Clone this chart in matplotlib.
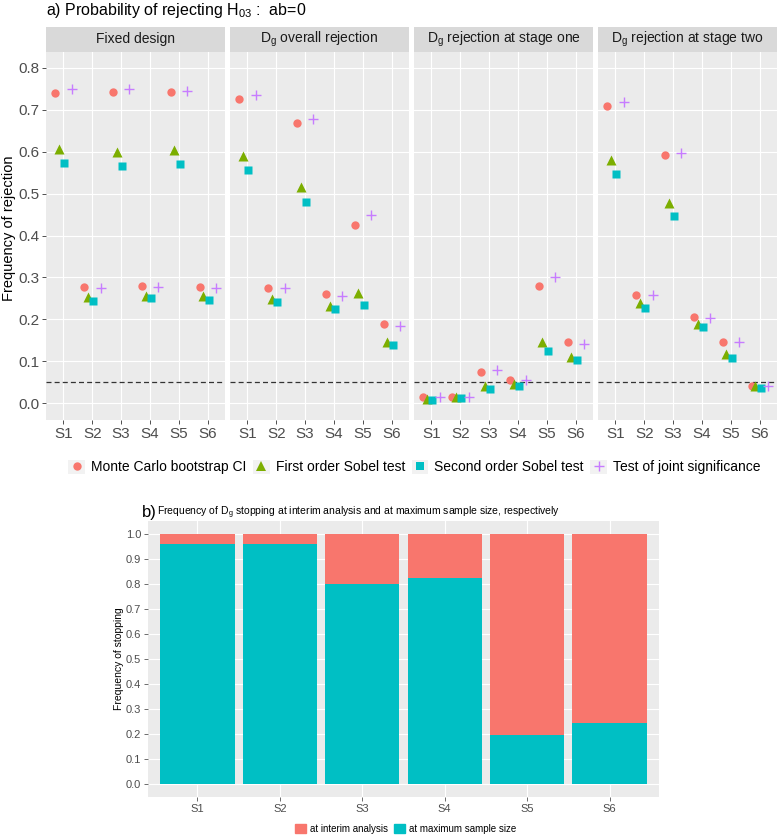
import numpy as np
import matplotlib.pyplot as plt
from matplotlib.patches import Rectangle, Patch
from matplotlib.lines import Line2D
from matplotlib.legend_handler import HandlerLine2D

plt.rcParams['font.family'] = ['Liberation Sans', 'DejaVu Sans']
plt.rcParams['mathtext.fontset'] = 'custom'
plt.rcParams['mathtext.rm'] = 'Liberation Sans'
plt.rcParams['mathtext.it'] = 'Liberation Sans:italic'

# ---- data ----
scenarios = ['S1', 'S2', 'S3', 'S4', 'S5', 'S6']
panel_titles = ['Fixed design',
                r'D$_\mathrm{g}$ overall rejection',
                r'D$_\mathrm{g}$ rejection at stage one',
                r'D$_\mathrm{g}$ rejection at stage two']
methods = ['Monte Carlo bootstrap CI', 'First order Sobel test',
           'Second order Sobel test', 'Test of joint significance']

# one row per panel, one value per scenario
mc_ci = [[0.741, 0.278, 0.743, 0.280, 0.743, 0.278],
         [0.726, 0.275, 0.669, 0.261, 0.426, 0.188],
         [0.015, 0.015, 0.075, 0.056, 0.280, 0.145],
         [0.710, 0.259, 0.593, 0.205, 0.146, 0.042]]
sobel_first = [[0.606, 0.253, 0.599, 0.257, 0.605, 0.255],
               [0.589, 0.249, 0.517, 0.231, 0.262, 0.147],
               [0.011, 0.014, 0.042, 0.046, 0.147, 0.111],
               [0.580, 0.238, 0.477, 0.188, 0.118, 0.040]]
sobel_second = [[0.572, 0.245, 0.565, 0.250, 0.571, 0.247],
                [0.556, 0.241, 0.481, 0.225, 0.234, 0.138],
                [0.007, 0.012, 0.035, 0.041, 0.125, 0.103],
                [0.548, 0.228, 0.446, 0.182, 0.108, 0.036]]
joint_sig = [[0.749, 0.275, 0.750, 0.278, 0.746, 0.274],
             [0.736, 0.274, 0.679, 0.257, 0.448, 0.184],
             [0.016, 0.014, 0.079, 0.056, 0.300, 0.141],
             [0.718, 0.258, 0.598, 0.204, 0.146, 0.042]]
nominal_level = 0.05

stop_labels = ['at interim analysis', 'at maximum sample size']
stop_interim = [0.040, 0.040, 0.200, 0.179, 0.801, 0.754]
stop_max = [0.960, 0.960, 0.800, 0.821, 0.199, 0.246]

# ---- styles ----
colors = ['#F8766D', '#7CAE00', '#00BFC4', '#C77CFF']
markers = ['o', '^', 's', '+']
msizes = [6.0, 7.6, 5.4, 7.4]
offsets = [-0.28, -0.15, 0.04, 0.29]
series = [mc_ci, sobel_first, sobel_second, joint_sig]

W, H = 778, 836
fig = plt.figure(figsize=(W / 100, H / 100), dpi=100)


def box(x0, y0, x1, y1):
    # pixel box (top-left origin) -> figure fraction rect
    return [x0 / W, 1 - y1 / H, (x1 - x0) / W, (y1 - y0) / H]


def gg_axes(ax):
    ax.set_facecolor('#EBEBEB')
    for s in ax.spines.values():
        s.set_visible(False)
    ax.grid(True, color='white', lw=0.8)
    ax.set_axisbelow(True)


panel_x = [(46, 225), (230, 409), (414, 593), (598, 777)]
xs = np.arange(len(scenarios))
for p, (x0, x1) in enumerate(panel_x):
    ax = fig.add_axes(box(x0, 52, x1, 420))
    gg_axes(ax)
    ax.axhline(nominal_level, color='#333333', lw=0.9, ls=(0, (4, 2.5)), zorder=1)
    for k in range(4):
        kw = dict(color=colors[k], ms=msizes[k], ls='none', marker=markers[k], zorder=3)
        if markers[k] == '+':
            kw['mew'] = 1.0
        else:
            kw['mec'] = 'none'
        ax.plot(xs + offsets[k], series[k][p], **kw)
    ax.set_xlim(-0.6, 5.6)
    ax.set_ylim(-0.04, 0.838)
    ax.set_xticks(xs)
    ax.set_xticklabels(scenarios)
    ax.set_yticks(np.arange(0, 0.81, 0.1))
    ax.tick_params(length=2.75, width=0.6, color='#333333', labelcolor='#4D4D4D',
                   labelsize=11, pad=2)
    if p == 0:
        ax.set_yticklabels(['%.1f' % v for v in np.arange(0, 0.81, 0.1)])
    else:
        ax.tick_params(axis='y', length=0, labelleft=False)

    st = fig.add_axes(box(x0, 27, x1, 52))
    st.set_facecolor('#D9D9D9')
    st.set_xticks([])
    st.set_yticks([])
    for s in st.spines.values():
        s.set_visible(False)
    st.text(0.5, 0.5, panel_titles[p], ha='center', va='center',
            fontsize=10, color='#1A1A1A', transform=st.transAxes)

fig.text(9 / W, 1 - 228 / H, 'Frequency of rejection', rotation=90,
         fontsize=10.5, ha='center', va='center')
fig.text(46 / W, 1 - 11 / H, r'a) Probability of rejecting H$_\mathrm{03}$ :  ab=0',
         fontsize=11.5, va='center', ha='left')


class KeyBox(HandlerLine2D):
    def create_artists(self, legend, orig_handle, xdescent, ydescent,
                       width, height, fontsize, trans):
        arts = super().create_artists(legend, orig_handle, xdescent, ydescent,
                                      width, height, fontsize, trans)
        bg = Rectangle((-xdescent, -ydescent), width, height, facecolor='#F2F2F2',
                       edgecolor='none', transform=trans)
        return [bg] + list(arts)


handles = []
for k in range(4):
    h = Line2D([], [], color=colors[k], marker=markers[k], ls='none', ms=msizes[k],
               mew=1.0 if markers[k] == '+' else 0,
               mec=colors[k] if markers[k] == '+' else 'none')
    handles.append(h)
fig.legend(handles, methods, loc='center', bbox_to_anchor=(414.5 / W, 1 - 467 / H),
           ncol=4, frameon=False, fontsize=10, handlelength=1.2, handleheight=1.2,
           handletextpad=0.45, columnspacing=0.45, borderpad=0,
           handler_map={Line2D: KeyBox()})

# ---- bottom chart ----
axb = fig.add_axes(box(148, 521, 659, 797))
gg_axes(axb)
axb.bar(xs, stop_max, width=0.9, color='#00BFC4', zorder=2)
axb.bar(xs, stop_interim, width=0.9, bottom=stop_max, color='#F8766D', zorder=2)
axb.set_xlim(-0.6, 5.6)
axb.set_ylim(-0.05, 1.05)
axb.set_xticks(xs)
axb.set_xticklabels(scenarios)
axb.set_yticks(np.arange(0, 1.01, 0.1))
axb.set_yticklabels(['%.1f' % v for v in np.arange(0, 1.01, 0.1)])
axb.tick_params(length=3, width=0.5, color='#333333', labelcolor='#4D4D4D',
                labelsize=8, pad=2)
axb.set_ylabel('Frequency of stopping', fontsize=7.5, labelpad=1.5)

fig.text(142 / W, 1 - 513 / H, 'b)', fontsize=12, va='center', ha='left')
fig.text(157 / W, 1 - 513 / H,
         r'Frequency of D$_\mathrm{g}$ stopping at interim analysis and at maximum sample size, respectively',
         fontsize=7.5, va='center', ha='left')

fig.legend([Patch(color='#F8766D'), Patch(color='#00BFC4')], stop_labels,
           loc='center', bbox_to_anchor=(405.5 / W, 1 - 829 / H), ncol=2, frameon=False,
           fontsize=7, handlelength=1.13, handleheight=1.13, handletextpad=0.4,
           columnspacing=0.6, borderpad=0)

fig.savefig('out.png', dpi=100)
